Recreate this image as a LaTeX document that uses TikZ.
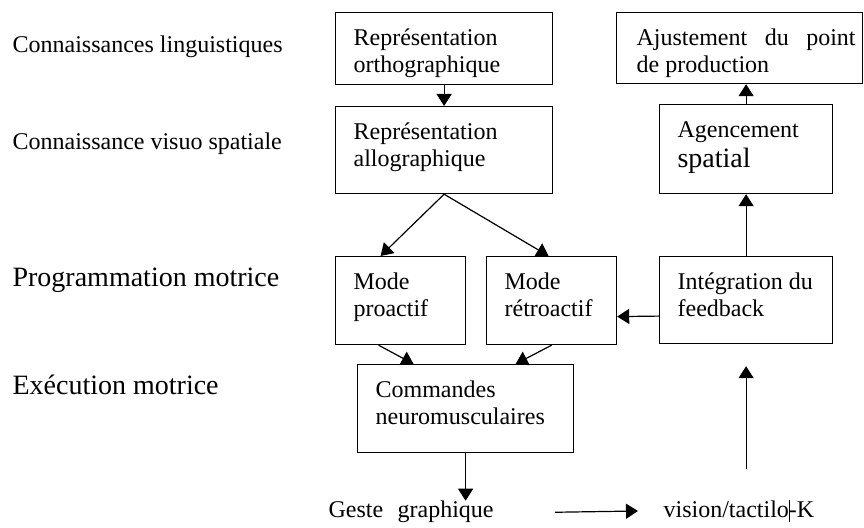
\documentclass[tikz,border=0pt]{standalone}
\usepackage{fontspec}
\setmainfont{Liberation Serif}
\usetikzlibrary{arrows.meta,calc}
\newcommand{\boxtxt}[3]{\parbox[t][#2][t]{#1}{\raggedright\strut#3}}

\begin{document}
\begin{tikzpicture}[x=0.5pt, y=-0.5pt, line width=0.6pt,
    >={Triangle[length=6pt,width=7.5pt]},
    every node/.style={font=\fontsize{12}{13.5}\selectfont},
    box/.style={draw, anchor=north west, inner xsep=9pt, inner ysep=7pt},
    tier/.style={anchor=base west, inner sep=0pt},
    big/.style={font=\fontsize{14}{16}\selectfont}]
    \useasboundingbox (0,0) rectangle (864,528);
    % niveaux
    \node[tier] (ling) at (12,53) {Connaissances linguistiques};
    \node[tier] (visuo) at (12,150) {Connaissance visuo spatiale};
    \node[tier, big] (prog) at (12,287) {Programmation motrice};
    \node[tier, big] (exec) at (12,395) {Exécution motrice};
    % blocs de gauche
    \node[box] (ortho) at (335,12) {\boxtxt{90.5pt}{22pt}{Représentation\\orthographique}};
    \node[box] (allo) at (335,106) {\boxtxt{90.5pt}{29.5pt}{Représentation\\allographique}};
    \node[box] (pro) at (335,256) {\boxtxt{47pt}{30pt}{Mode\\proactif}};
    \node[box] (retro) at (486,256) {\boxtxt{47pt}{30pt}{Mode\\rétroactif}};
    \node[box] (cmd) at (357,364) {\boxtxt{90pt}{30pt}{Commandes\\neuromusculaires}};
    % blocs de droite
    \node[box] (ajust) at (616,12) {\parbox[t][21.5pt][t]{105pt}{\leftskip=1pt\rightskip=-5.5pt\strut Ajustement du point\linebreak de production}};
    \node[box] (agenc) at (659,104) {\boxtxt{68.5pt}{30.5pt}{Agencement\\{\fontsize{14}{16}\selectfont spatial}}};
    \node[box] (integ) at (659,256) {\boxtxt{68.5pt}{29.5pt}{Intégration du\\feedback}};
    % sorties
    \node[tier] (geste) at (328,518) {Geste\hspace{0.6em}graphique};
    \node[tier] (vision) at (663,518) {vision/tactilo\rlap{\rule[-2pt]{0.6pt}{11pt}}-K};
    % fleches
    \draw[->] (ortho) -- (allo);
    \draw[->] (allo.south) -- ([xshift=-10pt]pro.north);
    \draw[->] (allo.south) -- ([xshift=-1.5pt]retro.north);
    \draw[->] ([xshift=-11pt]pro.south) -- ([xshift=-26pt]cmd.north);
    \draw[->] (retro.south) -- ([xshift=25pt]cmd.north);
    \draw[->] ([yshift=-8pt]integ.west) -- ([yshift=-8pt]retro.east);
    \draw[->] (integ) -- (agenc);
    \draw[->] (agenc.north) -- (agenc.north |- ajust.south);
    \draw[->] (cmd.south) -- (cmd.south |- geste.north);
    \draw[->] ($(geste.east)+(61,0)$) -- ($(vision.west)+(-25,0)$);
    \draw[->] ($(integ.south |- vision.north)+(0,-30)$) -- ($(integ.south)+(0,22)$);
\end{tikzpicture}
\end{document}
